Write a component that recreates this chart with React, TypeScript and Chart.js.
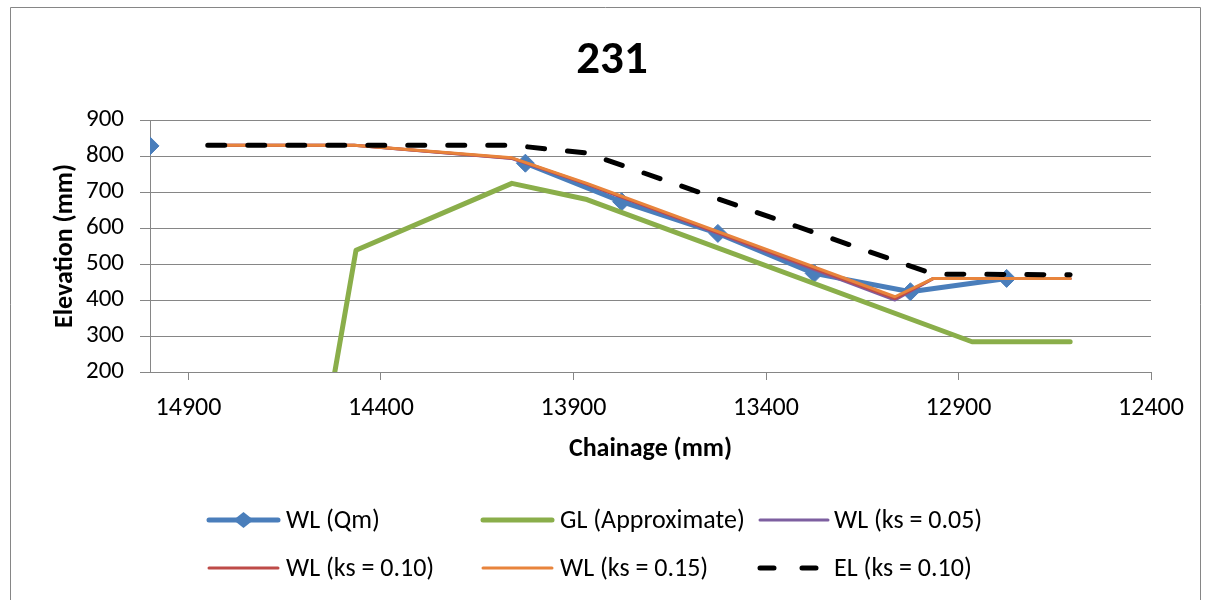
import React, { useEffect, useRef } from 'react';
import { Chart, registerables } from 'chart.js';

Chart.register(...registerables);

// ---------- data ----------
const chartTitle = '231';
const xAxisTitle = 'Chainage (mm)';
const yAxisTitle = 'Elevation (mm)';
const xTickValues = [14900, 14400, 13900, 13400, 12900, 12400];

const qmChainage = [15000, 14500, 14025, 13775, 13525, 13275, 13025, 12775];
const qmLevel = [828, null, 780, 673, 585, 474, 423, 460];

const glChainage = [14520, 14465, 14060, 13865, 12865, 12610];
const glLevel = [200, 538, 724, 679, 284, 284];

const ksChainage = [14850, 14470, 14060, 13865, 13065, 12965, 12610];
const ks05Level = [830, 830, 793, 721, 400, 460, 460];
const ks10Level = [830, 830, 794, 722, 404, 460, 460];
const ks15Level = [830, 830, 795, 724, 409, 460, 460];

const elChainage = [14850, 14060, 13865, 12965, 12610];
const elLevel = [830, 830, 808, 472, 470];

const seriesNames = [
  'WL (Qm)',
  'GL (Approximate)',
  'WL (ks = 0.05)',
  'WL (ks = 0.10)',
  'WL (ks = 0.15)',
  'EL (ks = 0.10)',
];

const FONT = 'Carlito, Calibri, Lato, sans-serif';
const GRID = '#868686';
const BLUE = '#4A7EBB';
const GREEN = '#8AAE4A';
const PURPLE = '#7D5FA0';
const RED = '#BE4B48';
const ORANGE = '#E8843C';
const BLACK = '#000000';

const pts = (xs: number[], ys: (number | null)[]) => xs.map((x, i) => ({ x, y: ys[i] }));

export default function App() {
  const ref = useRef<HTMLCanvasElement>(null);

  useEffect(() => {
    if (!ref.current) return;

    const legendItems = [
      { name: seriesNames[0], color: BLUE, width: 5, x1: 209, x2: 278, tx: 286, row: 0, marker: true },
      { name: seriesNames[1], color: GREEN, width: 5, x1: 483, x2: 552, tx: 560, row: 0 },
      { name: seriesNames[2], color: PURPLE, width: 3, x1: 760, x2: 828, tx: 834, row: 0 },
      { name: seriesNames[3], color: RED, width: 3, x1: 209, x2: 278, tx: 286, row: 1 },
      { name: seriesNames[4], color: ORANGE, width: 3, x1: 483, x2: 552, tx: 560, row: 1 },
      { name: seriesNames[5], color: BLACK, width: 5, x1: 760, x2: 818, tx: 834, row: 1, dashed: true },
    ];
    const rowY = [520, 568];

    const decor = {
      id: 'decor',
      beforeDraw(chart: any) {
        const c = chart.ctx;
        c.save();
        c.fillStyle = '#fff';
        c.fillRect(0, 0, chart.width, chart.height);
        c.strokeStyle = GRID;
        c.lineWidth = 1;
        c.beginPath();
        c.moveTo(10.5, 610);
        c.lineTo(10.5, 7.5);
        c.lineTo(1200.5, 7.5);
        c.lineTo(1200.5, 610);
        c.stroke();
        c.restore();
      },
      afterDraw(chart: any) {
        const c = chart.ctx;
        c.save();
        c.fillStyle = '#000';
        c.font = `bold 47px ${FONT}`;
        c.textAlign = 'center';
        c.textBaseline = 'middle';
        c.fillText(chartTitle, 612, 61);

        c.font = `26px ${FONT}`;
        c.textAlign = 'left';
        for (const it of legendItems) {
          const y = rowY[it.row];
          c.strokeStyle = it.color;
          c.lineWidth = it.width;
          c.lineCap = 'round';
          c.setLineDash(it.dashed ? [14, 28] : []);
          c.beginPath();
          c.moveTo(it.x1, y);
          c.lineTo(it.x2, y);
          c.stroke();
          c.setLineDash([]);
          if (it.marker) {
            const cx = (it.x1 + it.x2) / 2;
            const rx = 10;
            const ry = 8;
            c.fillStyle = BLUE;
            c.beginPath();
            c.moveTo(cx, y - ry);
            c.lineTo(cx + rx, y);
            c.lineTo(cx, y + ry);
            c.lineTo(cx - rx, y);
            c.closePath();
            c.fill();
          }
          c.fillStyle = '#000';
          c.fillText(it.name, it.tx, y + 1);
        }
        c.restore();
      },
    };

    const lineDefaults = {
      pointRadius: 0,
      pointHoverRadius: 0,
      tension: 0,
      fill: false,
      borderCapStyle: 'round' as const,
      borderJoinStyle: 'round' as const,
      spanGaps: false,
    };

    const chart = new Chart(ref.current, {
      type: 'line',
      data: {
        datasets: [
          {
            ...lineDefaults,
            label: seriesNames[0],
            data: pts(qmChainage, qmLevel),
            borderColor: BLUE,
            backgroundColor: BLUE,
            borderWidth: 5,
            pointRadius: 9,
            pointStyle: 'rectRot',
            pointBackgroundColor: BLUE,
            pointBorderColor: BLUE,
            pointBorderWidth: 1,
            order: 6,
          },
          {
            ...lineDefaults,
            label: seriesNames[1],
            data: pts(glChainage, glLevel),
            borderColor: GREEN,
            borderWidth: 5,
            order: 5,
          },
          {
            ...lineDefaults,
            label: seriesNames[2],
            data: pts(ksChainage, ks05Level),
            borderColor: PURPLE,
            borderWidth: 3,
            order: 4,
          },
          {
            ...lineDefaults,
            label: seriesNames[3],
            data: pts(ksChainage, ks10Level),
            borderColor: RED,
            borderWidth: 3,
            order: 3,
          },
          {
            ...lineDefaults,
            label: seriesNames[4],
            data: pts(ksChainage, ks15Level),
            borderColor: ORANGE,
            borderWidth: 3,
            order: 2,
          },
          {
            ...lineDefaults,
            label: seriesNames[5],
            data: pts(elChainage, elLevel),
            borderColor: BLACK,
            borderWidth: 5,
            borderDash: [17, 23],
            borderCapStyle: 'round',
            order: 1,
          },
        ],
      },
      options: {
        responsive: false,
        animation: false,
        events: [],
        layout: { padding: { left: 50, right: 55, top: 120, bottom: 135 } },
        plugins: {
          legend: { display: false },
          title: { display: false },
          tooltip: { enabled: false },
        },
        scales: {
          x: {
            type: 'linear',
            reverse: true,
            min: 12400,
            max: 15000,
            afterBuildTicks: (s: any) => {
              s.ticks = xTickValues.map((v) => ({ value: v }));
            },
            afterFit: (s: any) => {
              s.height = 93;
            },
            ticks: {
              autoSkip: false,
              maxRotation: 0,
              padding: 13,
              color: '#000',
              font: { family: FONT, size: 26 },
              callback: (v: any) => String(v),
            },
            grid: {
              drawOnChartArea: false,
              drawTicks: true,
              tickLength: 8,
              color: GRID,
              lineWidth: 1,
            },
            border: { display: true, color: GRID, width: 1 },
            title: {
              display: true,
              text: xAxisTitle,
              color: '#000',
              font: { family: FONT, size: 26, weight: 'bold' },
              padding: 0,
            },
          },
          y: {
            type: 'linear',
            min: 200,
            max: 900,
            afterFit: (s: any) => {
              s.width = 100;
            },
            ticks: {
              stepSize: 100,
              padding: 16,
              color: '#000',
              font: { family: FONT, size: 25 },
              callback: (v: any) => String(v),
            },
            grid: {
              drawTicks: true,
              tickLength: 10,
              color: GRID,
              lineWidth: 1,
            },
            border: { display: true, color: GRID, width: 1 },
            title: {
              display: true,
              text: yAxisTitle,
              color: '#000',
              font: { family: FONT, size: 26, weight: 'bold' },
              padding: 0,
            },
          },
        },
      },
      plugins: [decor],
    } as any);

    return () => chart.destroy();
  }, []);

  return (
    <div style={{ position: 'absolute', left: 0, top: 0, width: 1206, height: 600 }}>
      <canvas ref={ref} width={1206} height={600} style={{ width: 1206, height: 600, display: 'block' }} />
    </div>
  );
}
